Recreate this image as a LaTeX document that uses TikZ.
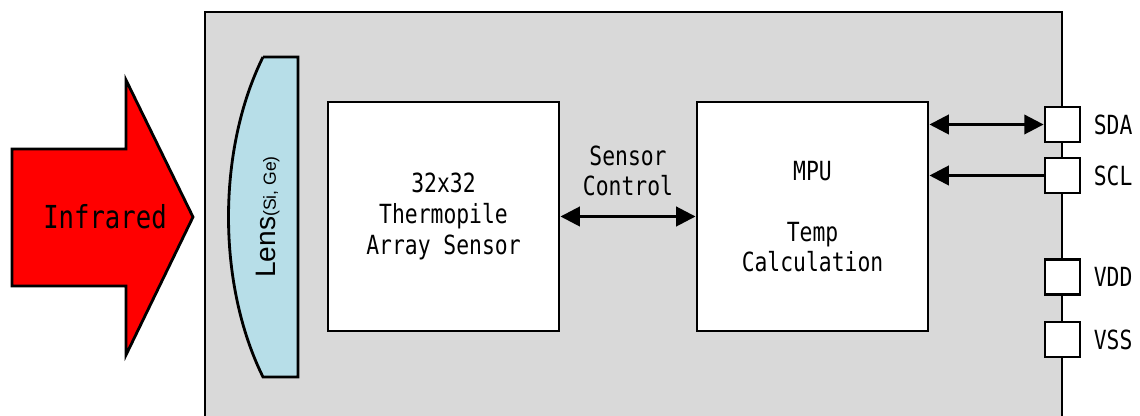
\documentclass[tikz,border=0pt]{standalone}
\usepackage{fontspec}
\usetikzlibrary{arrows.meta}
\newfontfamily\gfont[FakeStretch=0.81]{DejaVu Sans Mono}
\newfontfamily\lensfont{Liberation Sans}
\definecolor{chipgray}{HTML}{D9D9D9}
\definecolor{lensblue}{HTML}{B7DEE8}
\tikzset{
  blk/.style={draw, fill=white, line width=0.8pt, minimum width=2.31cm, minimum height=2.29cm,
    align=center, inner sep=0pt, font=\gfont\fontsize{7.5}{8.7}\selectfont},
  pin/.style={draw, fill=white, line width=0.8pt, minimum size=0.35cm, inner sep=0pt},
  lbl/.style={font=\gfont\fontsize{7.5}{8.3}\selectfont, align=center},
  sig/.style={line width=0.8pt, arrows={-Triangle[length=5.5pt,width=5.5pt]}},
  bisig/.style={line width=0.8pt, arrows={Triangle[length=5.5pt,width=5.5pt]-Triangle[length=5.5pt,width=5.5pt]}}
}
\begin{document}
\begin{tikzpicture}[x=0.01cm, y=-0.01cm]
  \useasboundingbox (0,0) rectangle (1140,416);

  % chip body
  \fill[chipgray] (205,12) rectangle (1062,420);
  \draw[line width=0.8pt] (205,420) -- (205,12) -- (1062,12) -- (1062,420);

  % infrared arrow
  \draw[line width=0.8pt, fill=red] (12,149) -- (126,149) -- (126,80) -- (193,217)
    -- (126,355) -- (126,286) -- (12,286) -- cycle;
  \node[font=\gfont\fontsize{9}{10}\selectfont] (ir) at (105,217) {Infrared};

  % lens
  \draw[line width=0.8pt, fill=lensblue] (263,57) -- (298,57) -- (298,377) -- (263,377)
    .. controls (217,284) and (217,150) .. (263,57);
  \node[rotate=90, font=\lensfont, inner sep=0pt] (lens) at (268,217)
    {{\fontsize{8}{9}\selectfont Lens}{\fontsize{5}{6}\selectfont(Si, Ge)}};

  % blocks
  \node[blk] (sensor) at (443.5,216.5) {32x32\\Thermopile\\Array Sensor};
  \node[blk] (mpu) at (812.5,216.5) {MPU\\ \\Temp\\Calculation};
  \node[lbl] (ctrl) at (628,171) {Sensor\\Control};

  % pins
  \foreach \name/\ypos/\txt in {sda/124.5/SDA, scl/175.5/SCL, vdd/277/VDD, vss/339.5/VSS} {
    \node[pin] (\name) at (1062.5,\ypos) {};
    \node[lbl, right] (\name l) at (\name.east) {\txt};
  }

  % signals
  \draw[bisig] (sensor.east) -- (mpu.west);
  \draw[bisig] (mpu.east |- sda) -- (sda.west);
  \draw[sig] (scl.west) -- (mpu.east |- scl);
\end{tikzpicture}
\end{document}
